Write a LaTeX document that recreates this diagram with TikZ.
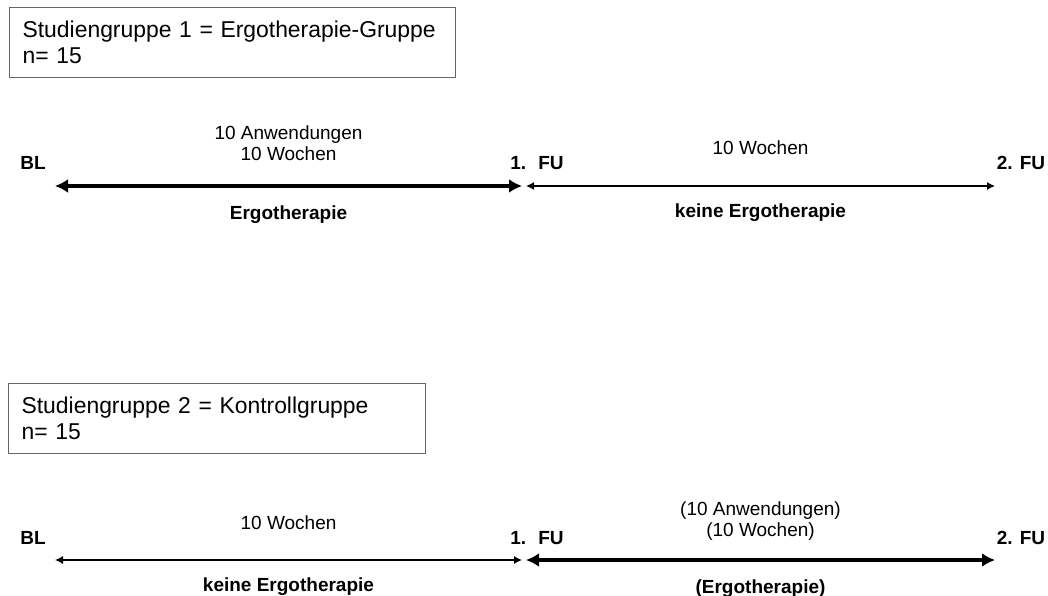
\documentclass[tikz,border=0pt]{standalone}
\usepackage{fontspec}
\setmainfont{Liberation Sans}
\usepackage{tikz}
\usetikzlibrary{arrows.meta}
\usetikzlibrary{calc}

\begin{document}
\begin{tikzpicture}[x=1pt,y=-1pt,font=\fontsize{19}{21}\selectfont,
  group/.style={draw=black!60,line width=1.2pt,anchor=north west,align=left,
    inner xsep=13pt,minimum height=70pt,font=\fontsize{22.9}{26}\selectfont},
  point/.style={font=\fontsize{19}{21}\selectfont\bfseries,text height=14pt,text depth=4pt},
  therapy/.style={line width=3.8pt,{Latex[length=13pt,width=14pt]}-{Latex[length=13pt,width=14pt]}},
  pause/.style={line width=1.3pt,{Latex[length=8pt,width=8pt]}-{Latex[length=8pt,width=8pt]}}]
\useasboundingbox (0,0) rectangle (1048,596);

% Draw the boxes of the two groups
\node[group,text width=420pt](g1) at (9,7){Studiengruppe 1 = Ergotherapie-Gruppe\\n= 15};
\node[group,text width=391pt](g2) at (8,383){Studiengruppe 2 = Kontrollgruppe\\n= 15};

% Draw the time points
\coordinate (a1) at (55,186);
\coordinate (b1) at (522,186);
\coordinate (c1) at (526,186);
\coordinate (d1) at (995,186);
\coordinate (a2) at (55,560);
\coordinate (b2) at (522,560);
\coordinate (c2) at (526,560);
\coordinate (d2) at (995,560);
\node[point](bl1) at ($(a1)+(-22,-21)$){BL};
\node[point](fu11) at ($(b1)+(15,-21)$){1.\hspace{12pt}FU};
\node[point](fu21) at ($(d1)+(26,-21)$){2. FU};
\node[point](bl2) at ($(a2)+(-22,-21)$){BL};
\node[point](fu12) at ($(b2)+(15,-21)$){1.\hspace{12pt}FU};
\node[point](fu22) at ($(d2)+(26,-21)$){2. FU};

% Draw the phases between the time points
\draw[therapy] (a1) -- node[above=20pt,align=center]{10 Anwendungen\\10 Wochen}
  node[below=14pt,point]{Ergotherapie} (b1);
\draw[pause] (c1) -- node[above=27pt]{10 Wochen}
  node[below=14pt,point]{keine Ergotherapie} (d1);
\draw[pause] (a2) -- node[above=26pt]{10 Wochen}
  node[below=14pt,point]{keine Ergotherapie} (b2);
\draw[therapy] (c2) -- node[above=14pt,align=center]{(10 Anwendungen)\\(10 Wochen)}
  node[below=14pt,point]{(Ergotherapie)} (d2);
\end{tikzpicture}
\end{document}
